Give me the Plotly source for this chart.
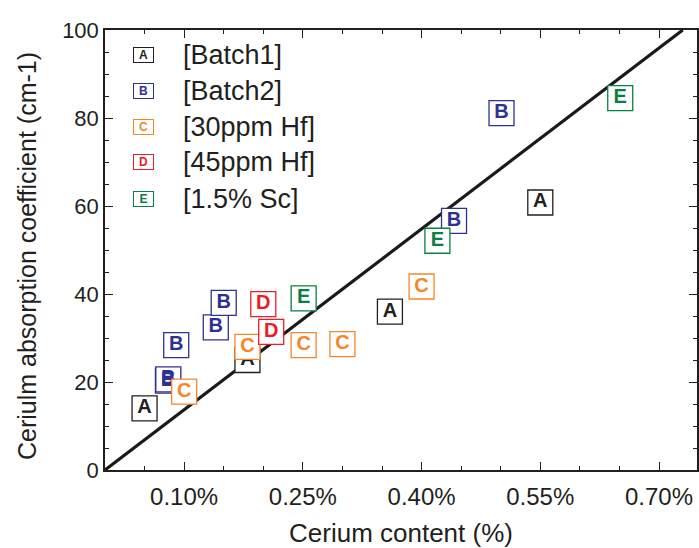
import plotly.graph_objects as go

# ---- data ----
series_names = ["[Batch1]", "[Batch2]", "[30ppm Hf]", "[45ppm Hf]", "[1.5% Sc]"]
series_letters = ["A", "B", "C", "D", "E"]
series_colors = ["#231f20", "#2e3192", "#f7862a", "#ec1c24", "#0a8040"]

batch1_x = [0.05, 0.18, 0.36, 0.55]
batch1_y = [14.0, 25.0, 36.0, 60.8]

batch2_x = [0.0795, 0.080, 0.090, 0.140, 0.150, 0.441, 0.501]
batch2_y = [20.3, 20.6, 28.4, 32.4, 38.0, 56.6, 81.1]

hf30_x = [0.100, 0.180, 0.251, 0.300, 0.400]
hf30_y = [17.8, 28.0, 28.4, 28.6, 41.7]

hf45_x = [0.200, 0.210]
hf45_y = [37.7, 31.4]

sc_x = [0.251, 0.420, 0.651]
sc_y = [39.0, 52.1, 84.5]

fit_x = [0.0, 0.73]
fit_y = [0.0, 100.0]

x_tickvals = [0.10, 0.25, 0.40, 0.55, 0.70]
x_ticktext = ["0.10%", "0.25%", "0.40%", "0.55%", "0.70%"]

xs = [batch1_x, batch2_x, hf30_x, hf45_x, sc_x]
ys = [batch1_y, batch2_y, hf30_y, hf45_y, sc_y]

FONT = "Liberation Sans, Arial, Helvetica, sans-serif"
INK = "#231f20"

fig = go.Figure()

fig.add_trace(go.Scatter(
    x=fit_x, y=fit_y, mode="lines",
    line=dict(color="#1a1a1a", width=3.2),
    showlegend=False, hoverinfo="skip"))

for name, letter, color, x, y in zip(series_names, series_letters, series_colors, xs, ys):
    fig.add_trace(go.Scatter(
        x=x, y=y, mode="markers+text", name=name,
        text=[letter] * len(x), textposition="middle center",
        textfont=dict(family=FONT, size=20, color=color, weight="bold"),
        marker=dict(symbol="square", size=25, color="white",
                    line=dict(color=color, width=1.3)),
        showlegend=False))

# custom legend (letter boxes + labels)
W, H = 699, 548
L, R, T, B = 105, 2, 30, 78
pw, ph = W - L - R, H - T - B
legend_rows_px = [55, 91, 127, 162, 199]
for name, letter, color, py in zip(series_names, series_letters, series_colors, legend_rows_px):
    yp = (H - B - py) / ph
    fig.add_annotation(
        xref="paper", yref="paper", x=(143 - L) / pw, y=yp,
        text="<b>%s</b>" % letter, showarrow=False,
        font=dict(family=FONT, size=12, color=color),
        bordercolor=color, borderwidth=1, borderpad=1,
        width=17, height=12, bgcolor="white",
        xanchor="center", yanchor="middle")
    fig.add_annotation(
        xref="paper", yref="paper", x=(181 - L) / pw, y=yp,
        text=name, showarrow=False,
        font=dict(family=FONT, size=27, color=INK),
        xanchor="left", yanchor="middle")

# axis titles
fig.add_annotation(
    xref="paper", yref="paper", x=0.5, y=(H - B - 533) / ph,
    text="Cerium content (%)", showarrow=False,
    font=dict(family=FONT, size=26, color=INK),
    xanchor="center", yanchor="middle")
fig.add_annotation(
    xref="paper", yref="paper", x=(27 - L) / pw, y=(H - B - 256) / ph,
    text="Ceriulm absorption coefficient (cm-1)", showarrow=False,
    textangle=-90,
    font=dict(family=FONT, size=25, color=INK),
    xanchor="center", yanchor="middle")

axis_common = dict(
    showline=True, linecolor=INK, linewidth=1.5, mirror="ticks",
    ticks="inside", ticklen=8, tickwidth=1.3, tickcolor=INK,
    showgrid=False, zeroline=False,
)

fig.update_xaxes(
    range=[0, 0.748], tickvals=x_tickvals, ticktext=x_ticktext,
    minor=dict(tickvals=[i * 0.05 for i in range(1, 15)], ticks="inside",
               ticklen=4, tickwidth=1.2, tickcolor=INK),
    ticklabelstandoff=4,
    tickfont=dict(family=FONT, size=24, color=INK),
    **axis_common)
fig.update_yaxes(
    range=[0, 100], tick0=0, dtick=20,
    minor=dict(dtick=5, ticks="inside", ticklen=4, tickwidth=1.2, tickcolor=INK),
    tickfont=dict(family=FONT, size=22, color=INK),
    **axis_common)

fig.update_layout(
    width=W, height=H,
    margin=dict(l=L, r=R, t=T, b=B, autoexpand=False),
    plot_bgcolor="white", paper_bgcolor="white",
    showlegend=False,
    font=dict(family=FONT, color=INK),
)

fig.write_html("out.html", config={"displayModeBar": False},
               post_script="document.body.style.margin='0';document.body.style.overflow='hidden';")
